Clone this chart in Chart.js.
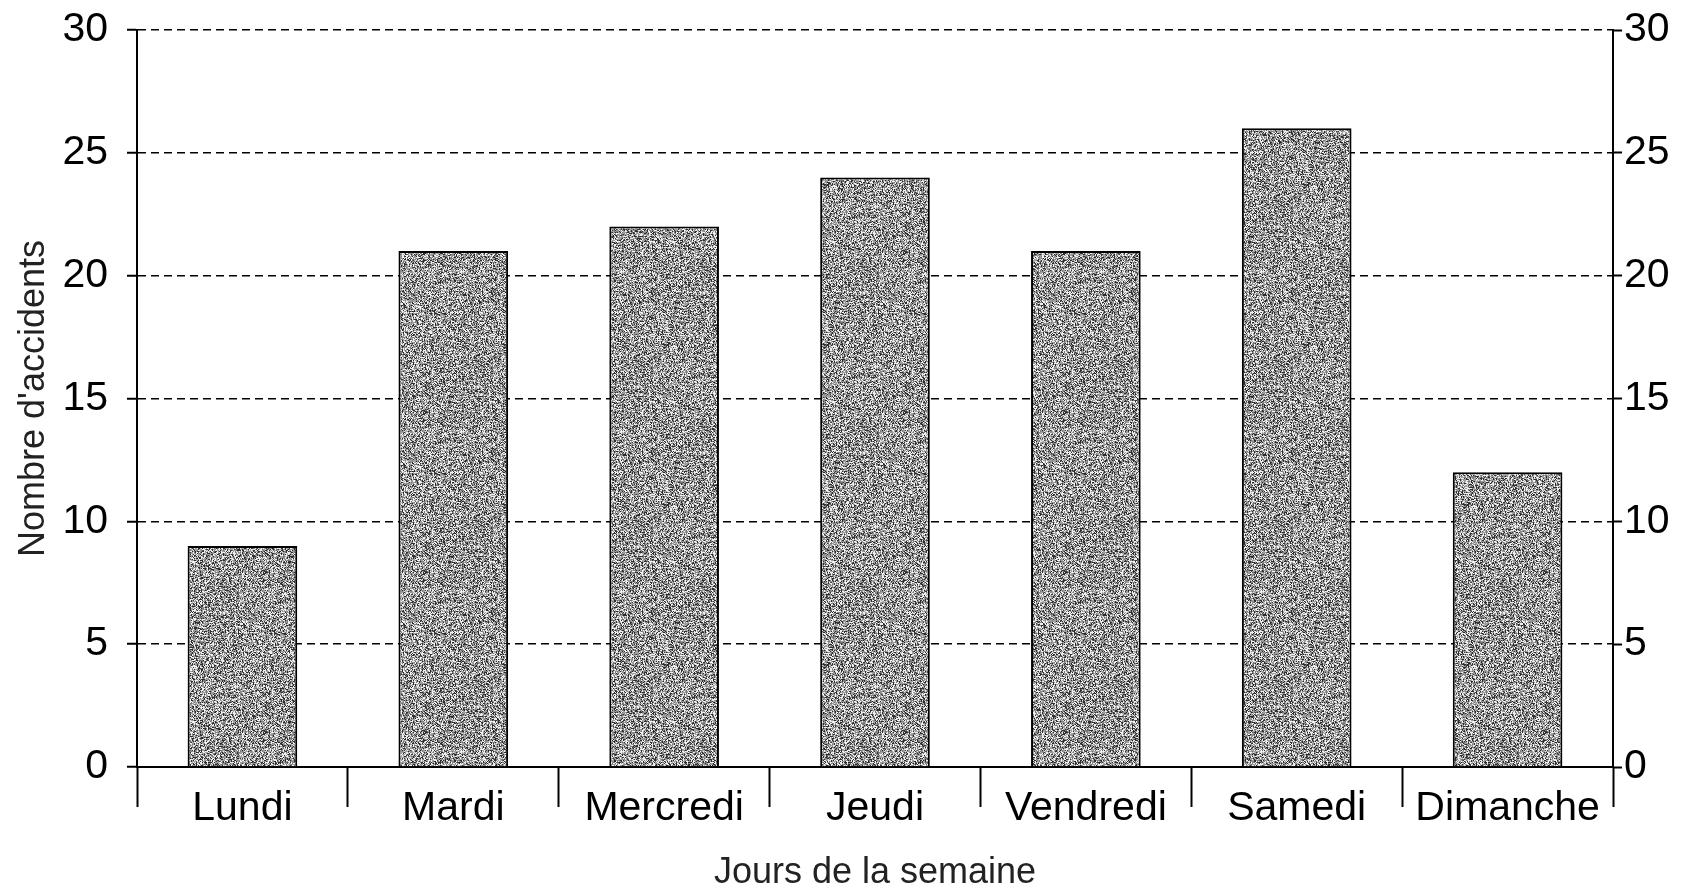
<!DOCTYPE html>
<html>
<head>
<meta charset="utf-8">
<script src="https://cdn.jsdelivr.net/npm/chart.js@4/dist/chart.umd.min.js"></script>
<style>
  html, body { margin: 0; padding: 0; background: #fff; }
  #wrap { width: 1695px; height: 884px; }
</style>
</head>
<body>
<div id="wrap"><canvas id="accChart" width="1695" height="884"></canvas></div>
<script>
// données
const jours = ['Lundi', 'Mardi', 'Mercredi', 'Jeudi', 'Vendredi', 'Samedi', 'Dimanche'];
const accidents = [9, 21, 22, 24, 21, 26, 12];
const yMin = 0;
const yMax = 30;
const yPas = 5;

// texture grise "tramée" des barres (simple bruit déterministe)
function motifTrame() {
  const c = document.createElement('canvas');
  c.width = 160; c.height = 160;
  const g = c.getContext('2d');
  const img = g.createImageData(160, 160);
  let s = 12345;
  const rnd = () => { s = (s * 1103515245 + 12345) & 0x7fffffff; return s / 0x7fffffff; };
  for (let i = 0; i < img.data.length; i += 4) {
    const r = rnd();
    let v;
    if (r < 0.22) v = 45;
    else if (r < 0.55) v = 160;
    else if (r < 0.72) v = 120;
    else v = 240;
    img.data[i] = v; img.data[i + 1] = v; img.data[i + 2] = v; img.data[i + 3] = 255;
  }
  g.putImageData(img, 0, 0);
  return document.getElementById('accChart').getContext('2d').createPattern(c, 'repeat');
}

const police = 'Arial, "Liberation Sans", sans-serif';

new Chart(document.getElementById('accChart').getContext('2d'), {
  type: 'bar',
  data: {
    labels: jours,
    datasets: [{
      label: "Nombre d'accidents",
      data: accidents,
      backgroundColor: motifTrame(),
      borderColor: '#000',
      borderWidth: 2,
      borderSkipped: 'bottom',
      barPercentage: 0.52,
      categoryPercentage: 1.0
    }]
  },
  options: {
    responsive: false,
    animation: false,
    layout: { padding: { top: 30, left: 0, right: 0, bottom: 0 } },
    plugins: {
      legend: { display: false },
      tooltip: { enabled: false }
    },
    scales: {
      x: {
        offset: true,
        grid: {
          offset: true,
          drawOnChartArea: false,
          drawTicks: true,
          tickLength: 40,
          tickColor: '#000',
          tickWidth: 2
        },
        border: { display: true, color: '#000', width: 2 },
        ticks: {
          color: '#000',
          font: { family: police, size: 41 },
          padding: -23,
          maxRotation: 0,
          autoSkip: false
        },
        title: {
          display: true,
          text: 'Jours de la semaine',
          color: '#222',
          font: { family: police, size: 36, lineHeight: 0.6 },
          padding: { top: 0, bottom: 0 }
        },
        afterFit: (scale) => { scale.height = 117; }
      },
      y: {
        position: 'left',
        min: yMin,
        max: yMax,
        ticks: {
          stepSize: yPas,
          color: '#000',
          font: { family: police, size: 41 },
          padding: 19
        },
        grid: {
          color: '#000',
          lineWidth: 1.5,
          tickLength: 10,
          tickColor: '#000',
          tickWidth: 2
        },
        border: { display: true, color: '#000', width: 2, dash: [8, 5] },
        title: {
          display: true,
          text: "Nombre d'accidents",
          color: '#222',
          font: { family: police, size: 36, lineHeight: 1.2 },
          padding: { top: 12, bottom: 0 }
        },
        afterFit: (scale) => { scale.width = 137; scale.paddingTop = 0; scale.paddingBottom = 0; }
      },
      y2: {
        position: 'right',
        min: yMin,
        max: yMax,
        ticks: {
          stepSize: yPas,
          color: '#000',
          font: { family: police, size: 41 },
          padding: 2
        },
        grid: {
          drawOnChartArea: false,
          tickLength: 9,
          tickColor: '#000',
          tickWidth: 2
        },
        border: { display: true, color: '#000', width: 2 },
        afterFit: (scale) => { scale.width = 82; scale.paddingTop = 0; scale.paddingBottom = 0; }
      }
    }
  }
});
</script>
</body>
</html>
